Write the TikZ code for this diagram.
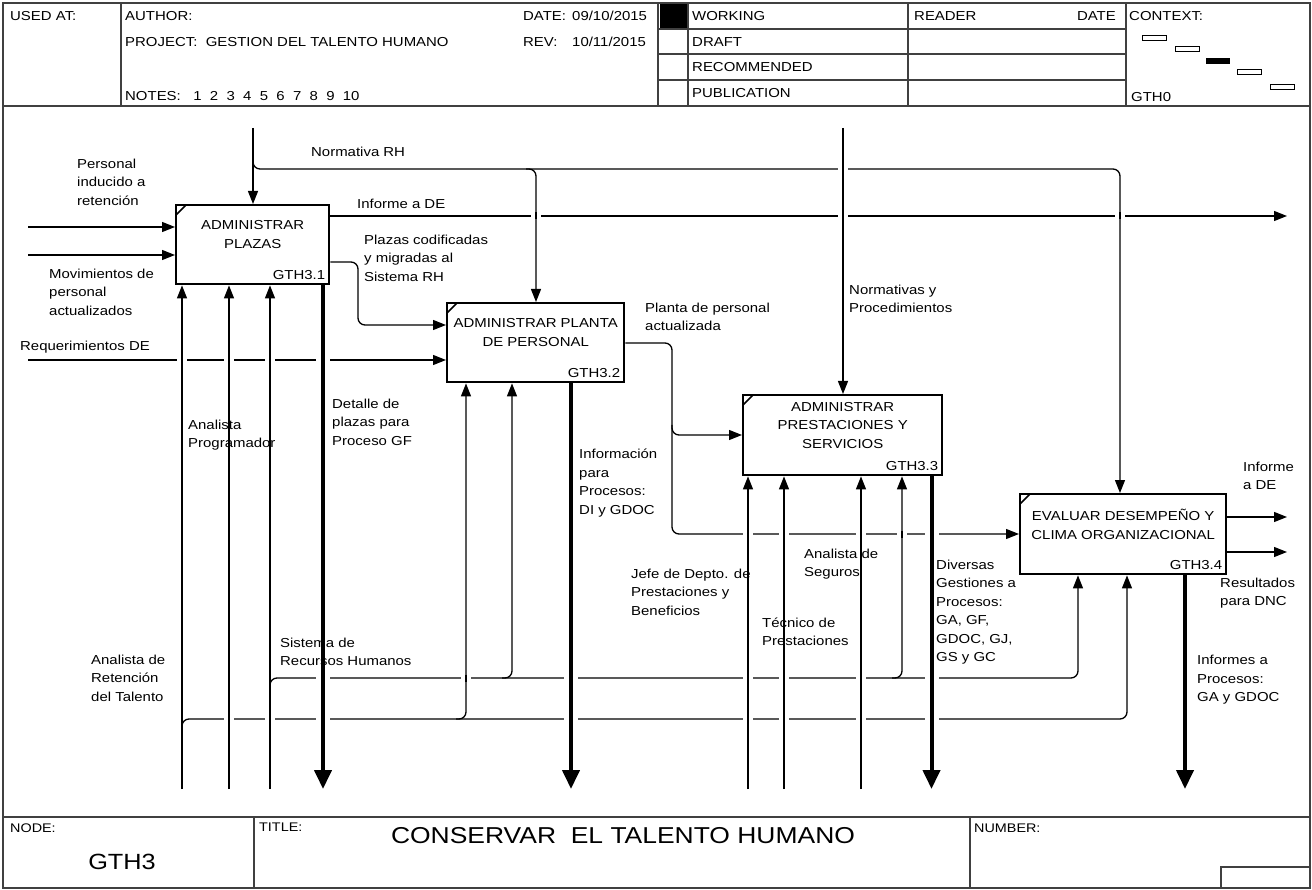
\documentclass[tikz,border=0pt]{standalone}
\usepackage{fontspec}
\setmainfont{Liberation Sans}[FakeStretch=1.15]
\usepackage{tikz}
\usetikzlibrary{positioning,arrows.meta}

\newcommand{\ideflbl}{\fontsize{13}{18.5}\selectfont}
\newcommand{\idefsmall}{\fontsize{12.5}{15}\selectfont}
\newcommand{\idefbig}{\fontsize{22}{26}\selectfont}
\newcommand{\ideftitle}{\fontsize{23}{27}\selectfont}

\tikzset{
  frame/.style={draw=black!75, line width=1.3pt},
  act/.style={draw, line width=2.4pt, anchor=north west, inner sep=0pt},
  acttext/.style={font=\ideflbl, align=center, inner sep=0pt},
  actid/.style={font=\ideflbl, inner sep=0pt, anchor=south east},
  flow/.style={line width=1.3pt, rounded corners=7pt, -{Triangle[length=13pt,width=10pt]}},
  outflow/.style={line width=4pt, -{Triangle[length=19pt,width=17pt]}},
  lbl/.style={font=\ideflbl, align=left, anchor=west, inner sep=0pt},
  hdr/.style={font=\ideflbl, anchor=west, inner sep=0pt}
}

\begin{document}
\begin{tikzpicture}[x=1pt, y=-1pt]
  \useasboundingbox (0,0) rectangle (1312,890);

  % Frame
  \draw[frame] (3,3) rectangle (1310,888);
  \draw[frame] (3,106) -- (1310,106);
  \draw[frame] (3,817) -- (1310,817);
  \foreach \x in {121,658,688,908,1126}
    \draw[frame] (\x,3) -- (\x,106);
  \foreach \y in {29,54,80}
    \draw[frame] (658,\y) -- (1126,\y);
  \fill (660,4) rectangle (687,28);
  \draw[frame] (254,817) -- (254,888);
  \draw[frame] (970,817) -- (970,888);
  \draw[frame] (1221,888) |- (1310,867);

  % Header
  \node[hdr] (usedat) at (10,16) {USED AT:};
  \node[hdr] (author) at (125,16) {AUTHOR:};
  \node[hdr] (date) at (523,16) {\makebox[49pt][l]{DATE:}09/10/2015};
  \node[hdr] (project) at (125,42) {PROJECT:~~GESTION DEL TALENTO HUMANO};
  \node[hdr] (rev) at (523,42) {\makebox[49pt][l]{REV:}10/11/2015};
  \node[hdr] (notes) at (125,96) {NOTES:~~~1~~2~~3~~4~~5~~6~~7~~8~~9~~10};
  \node[hdr] (working) at (692,16) {WORKING};
  \node[hdr] (draft) at (692,42) {DRAFT};
  \node[hdr] (recom) at (692,67) {RECOMMENDED};
  \node[hdr] (public) at (692,93) {PUBLICATION};
  \node[hdr] (reader) at (914,16) {READER};
  \node[hdr, anchor=east] (rdate) at (1116,16) {DATE};
  \node[hdr] (context) at (1129,16) {CONTEXT:};
  \node[hdr] (ctxnode) at (1131,97) {GTH0};
  \foreach \x/\y in {1142/36,1175/47,1237/70,1270/85}
    \draw[line width=1pt] (\x,\y) rectangle ++(24,5);
  \fill (1206,58) rectangle ++(24,6);

  % Footer
  \node[hdr, font=\idefsmall] (nodelbl) at (10,828) {NODE:};
  \node[font=\idefbig, inner sep=0pt] (nodeid) at (122,862) {GTH3};
  \node[hdr, font=\idefsmall] (titlelbl) at (259,827) {TITLE:};
  \node[font=\ideftitle, inner sep=0pt] (title) at (623,836) {CONSERVAR~~EL TALENTO HUMANO};
  \node[hdr, font=\idefsmall] (numberlbl) at (974,828) {NUMBER:};

  % Activities
  \node[act, minimum width=153pt, minimum height=79pt] (plazas) at (175,204) {};
  \node[act, minimum width=177pt, minimum height=79pt] (planta) at (446,302) {};
  \node[act, minimum width=199pt, minimum height=80pt] (prestac) at (742,394) {};
  \node[act, minimum width=206pt, minimum height=80pt] (evaluar) at (1019,493) {};
  \node[acttext] (plazast) at ([yshift=10pt]plazas.center) {ADMINISTRAR\\PLAZAS};
  \node[acttext] (plantat) at ([yshift=10pt]planta.center) {ADMINISTRAR PLANTA\\DE PERSONAL};
  \node[acttext] (prestact) at ([yshift=10pt]prestac.center) {ADMINISTRAR\\PRESTACIONES Y\\SERVICIOS};
  \node[acttext] (evaluart) at ([yshift=10pt]evaluar.center) {EVALUAR DESEMPEÑO Y\\CLIMA ORGANIZACIONAL};
  \node[actid] (plazasid) at ([xshift=-5pt,yshift=6pt]plazas.south east) {GTH3.1};
  \node[actid] (plantaid) at ([xshift=-5pt,yshift=6pt]planta.south east) {GTH3.2};
  \node[actid] (prestacid) at ([xshift=-5pt,yshift=6pt]prestac.south east) {GTH3.3};
  \node[actid] (evaluarid) at ([xshift=-5pt,yshift=6pt]evaluar.south east) {GTH3.4};
  \foreach \b in {plazas,planta,prestac,evaluar}
    \draw[line width=1.6pt] ([xshift=1pt,yshift=-11pt]\b.north west) -- ([xshift=11pt,yshift=-1pt]\b.north west);

  % Controls
  \coordinate (c1) at (253,128);
  \coordinate (c1b) at (253,160);
  \coordinate (c2) at (536,169);
  \coordinate (c3) at (843,128);
  \coordinate (c4) at (1120,169);
  \draw[flow] (c1) -- (c1 |- plazas.north);
  \draw[flow] (c1b) |- (c4) -- (c4 |- evaluar.north);
  \draw[flow] ([xshift=-10pt]c2) -| (c2 |- planta.north);
  \draw[flow] (c3) -- (c3 |- prestac.north);

  % Inputs and outputs
  \coordinate (i1) at (28,227);
  \coordinate (i2) at (28,255);
  \coordinate (i3) at (28,360);
  \draw[flow] (i1) -- (i1 -| plazas.west);
  \draw[flow] (i2) -- (i2 -| plazas.west);
  \draw[flow] (i3) -- (i3 -| planta.west);
  \coordinate (o1) at (1287,216);
  \draw[flow] (plazas.east |- o1) -- (o1);
  \coordinate (o12) at (358,262);
  \coordinate (i22) at (358,325);
  \draw[flow] (plazas.east |- o12) -- (o12) -- (i22) -- (i22 -| planta.west);
  \coordinate (o23) at (672,343);
  \coordinate (i33) at (672,435);
  \coordinate (i43) at (672,534);
  \draw[flow] (planta.east |- o23) -- (o23) -- (i33) -- (i33 -| prestac.west);
  \draw[flow] ([yshift=10pt]i33) -- (i43) -- (i43 -| evaluar.west);
  \coordinate (o41) at (1287,517);
  \coordinate (o42) at (1287,552);
  \draw[flow] (evaluar.east |- o41) -- (o41);
  \draw[flow] (evaluar.east |- o42) -- (o42);

  % Outputs to other processes
  \coordinate (d1) at (323,789);
  \coordinate (d2) at (571,789);
  \coordinate (d3) at (931.5,789);
  \coordinate (d4) at (1185,789);
  \draw[outflow] (d1 |- plazas.south) -- (d1);
  \draw[outflow] (d2 |- planta.south) -- (d2);
  \draw[outflow] (d3 |- prestac.south) -- (d3);
  \draw[outflow] (d4 |- evaluar.south) -- (d4);

  % Mechanisms
  \coordinate (m1) at (182,789);
  \coordinate (m2) at (229,789);
  \coordinate (m3) at (270,789);
  \foreach \m in {m1,m2,m3}
    \draw[flow] (\m) -- (\m |- plazas.south);
  \coordinate (m31) at (748,789);
  \coordinate (m32) at (784,789);
  \coordinate (m34) at (861,789);
  \foreach \m in {m31,m32,m34}
    \draw[flow] (\m) -- (\m |- prestac.south);
  \coordinate (j1) at (182,719);
  \coordinate (m22) at (466,719);
  \coordinate (m42) at (1127,719);
  \draw[flow] ([yshift=-10pt]j1) -- (j1) -- (m22) -- (m22 |- planta.south);
  \draw[flow] ([xshift=-10pt]m22) -- (m42) -- (m42 |- evaluar.south);
  \coordinate (j3) at (270,678);
  \coordinate (m23) at (512,678);
  \coordinate (m33) at (902,678);
  \coordinate (m41) at (1078,678);
  \draw[flow] ([yshift=-10pt]j3) -- (j3) -- (m23) -- (m23 |- planta.south);
  \draw[flow] ([xshift=-10pt]m23) -- (m33) -- (m33 |- prestac.south);
  \draw[flow] ([xshift=-10pt]m33) -- (m41) -- (m41 |- evaluar.south);

  % Crossings
  \foreach \x/\y in {843/169,536/216,843/216,1120/216,182/360,229/360,270/360,
      748/534,784/534,861/534,902/534,466/678,748/678,784/678,861/678,
      229/719,270/719,748/719,784/719,861/719} {
    \fill[white] (\x-5,\y-2.5) rectangle (\x+5,\y+2.5);
    \draw[line width=1.3pt] (\x,\y-3.5) -- (\x,\y+3.5);
  }
  \foreach \x/\y in {323/360,931.5/534,323/678,571/678,931.5/678,
      323/719,571/719,931.5/719} {
    \fill[white] (\x-7,\y-2.5) rectangle (\x+7,\y+2.5);
    \draw[line width=4pt] (\x,\y-3.5) -- (\x,\y+3.5);
  }

  % Labels
  \node[lbl] (lpersonal) at (77,182) {Personal\\inducido a\\retención};
  \node[lbl] (lmovim) at (49,292) {Movimientos de\\personal\\actualizados};
  \node[lbl] (lnormrh) at (311,152) {Normativa RH};
  \node[lbl] (linforme) at (357,204) {Informe a DE};
  \node[lbl] (lplazas) at (364,258) {Plazas codificadas\\y migradas al\\Sistema RH};
  \node[lbl] (lreq) at (20,347) {Requerimientos DE};
  \node[lbl] (lplanta) at (645,317) {Planta de personal\\actualizada};
  \node[lbl] (lnormas) at (849,299) {Normativas y\\Procedimientos};
  \node[lbl] (ldetalle) at (332,422) {Detalle de\\plazas para\\Proceso GF};
  \node[lbl] (lprog) at (188,435) {Analista\\Programador};
  \node[lbl] (linfo) at (579,483) {Información\\para\\Procesos:\\DI y GDOC};
  \node[lbl] (linfde) at (1243,476) {Informe\\a DE};
  \node[lbl] (lresult) at (1220,593) {Resultados\\para DNC};
  \node[lbl] (ljefe) at (631,592) {Jefe de Depto. de\\Prestaciones y\\Beneficios};
  \node[lbl] (lseguros) at (804,564) {Analista de\\Seguros};
  \node[lbl] (ltecnico) at (762,632) {Técnico de\\Prestaciones};
  \node[lbl] (ldiversas) at (936,612) {Diversas\\Gestiones a\\Procesos:\\GA, GF,\\GDOC, GJ,\\GS y GC};
  \node[lbl] (lsistema) at (280,652) {Sistema de\\Recursos Humanos};
  \node[lbl] (lretencion) at (91,678) {Analista de\\Retención\\del Talento};
  \node[lbl] (linformes) at (1197,680) {Informes a\\Procesos:\\GA y GDOC};
\end{tikzpicture}
\end{document}
